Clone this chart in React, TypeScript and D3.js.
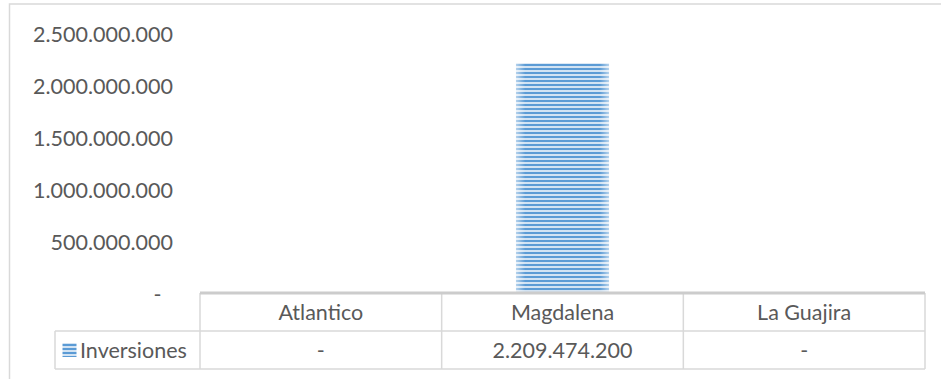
import React from "react";
import * as d3 from "d3";

const categories = ["Atlantico", "Magdalena", "La Guajira"];
const seriesName = "Inversiones";
const values = [0, 2209474200, 0];
const yTicks = [0, 500000000, 1000000000, 1500000000, 2000000000, 2500000000];

const W = 941;
const H = 379;
const plotLeft = 200;
const plotRight = 925;
const plotTop = 33;
const axisY = 293;
const headerBottom = 331;
const rowBottom = 369;
const legendLeft = 55;
const FONT = "Lato, 'Open Sans', sans-serif";
const TXT = "#595959";
const LINE = "#d9d9d9";
const FS = 21.5;

const loc = d3.formatLocale({ decimal: ",", thousands: ".", grouping: [3], currency: ["$", ""] });
const fmtNum = loc.format(",.0f");
const fmt = (v: number) => (v === 0 ? "-" : fmtNum(v));

export default function App() {
  const x = d3.scaleBand<string>().domain(categories).range([plotLeft, plotRight]).paddingInner(0).paddingOuter(0);
  const y = d3.scaleLinear().domain([0, 2500000000]).range([axisY, plotTop]);
  const barW = x.bandwidth() * 0.385;

  return (
    <svg width={W} height={H} style={{ position: "absolute", left: 0, top: 0, background: "#fff" }} fontFamily={FONT}>
      <defs>
        <pattern id="stripes" width="8" height="4" patternUnits="userSpaceOnUse">
          <rect width="8" height="4" fill="#d2e3f3" />
          <rect width="8" height="2" fill="#5b9bd5" />
        </pattern>
        <linearGradient id="edge" x1="0" x2="1" y1="0" y2="0">
          <stop offset="0" stopColor="#fff" stopOpacity="0.55" />
          <stop offset="0.1" stopColor="#fff" stopOpacity="0" />
          <stop offset="0.9" stopColor="#fff" stopOpacity="0" />
          <stop offset="1" stopColor="#fff" stopOpacity="0.55" />
        </linearGradient>
      </defs>
      {/* chart border */}
      <rect x={9.5} y={4} width={W + 10} height={H + 10} fill="none" stroke={LINE} strokeWidth={1.5} />

      {/* y axis labels */}
      {yTicks.map((t) => (
        <text
          key={t}
          x={t === 0 ? 157.5 : 173}
          y={y(t) + 1}
          dy="0.36em"
          textAnchor={t === 0 ? "middle" : "end"}
          fontSize={FS}
          fill={TXT}
        >
          {fmt(t)}
        </text>
      ))}

      {/* bars */}
      {categories.map((c, i) =>
        values[i] > 0 ? (
          <g key={c}>
            <rect
              x={(x(c) as number) + x.bandwidth() / 2 - barW / 2}
              y={y(values[i])}
              width={barW}
              height={axisY - y(values[i])}
              fill="url(#stripes)"
            />
            <rect
              x={(x(c) as number) + x.bandwidth() / 2 - barW / 2}
              y={y(values[i])}
              width={barW}
              height={axisY - y(values[i])}
              fill="url(#edge)"
            />
          </g>
        ) : null
      )}

      {/* data table */}
      <g stroke={LINE} strokeWidth={1.5} fill="none">
        <line x1={legendLeft} x2={plotRight} y1={headerBottom} y2={headerBottom} />
        <line x1={legendLeft} x2={plotRight} y1={rowBottom} y2={rowBottom} />
        <line x1={legendLeft} x2={legendLeft} y1={headerBottom} y2={rowBottom} />
        {categories.map((c) => (
          <line key={c} x1={x(c) as number} x2={x(c) as number} y1={axisY} y2={rowBottom} />
        ))}
        <line x1={plotRight} x2={plotRight} y1={axisY} y2={rowBottom} />
      </g>
      <line x1={plotLeft} x2={plotRight} y1={axisY} y2={axisY} stroke="#cccccc" strokeWidth={3} />

      {categories.map((c, i) => (
        <g key={c}>
          <text
            x={(x(c) as number) + x.bandwidth() / 2}
            y={(axisY + headerBottom) / 2}
            dy="0.36em"
            textAnchor="middle"
            fontSize={FS}
            fill={TXT}
          >
            {c}
          </text>
          <text
            x={(x(c) as number) + x.bandwidth() / 2}
            y={(headerBottom + rowBottom) / 2}
            dy="0.36em"
            textAnchor="middle"
            fontSize={FS}
            fill={TXT}
          >
            {fmt(values[i])}
          </text>
        </g>
      ))}

      {/* legend key */}
      <rect x={62.5} y={343} width={14} height={14} fill="url(#stripes)" />
      <text x={80} y={(headerBottom + rowBottom) / 2} dy="0.36em" fontSize={FS} fill={TXT}>
        {seriesName}
      </text>
    </svg>
  );
}
